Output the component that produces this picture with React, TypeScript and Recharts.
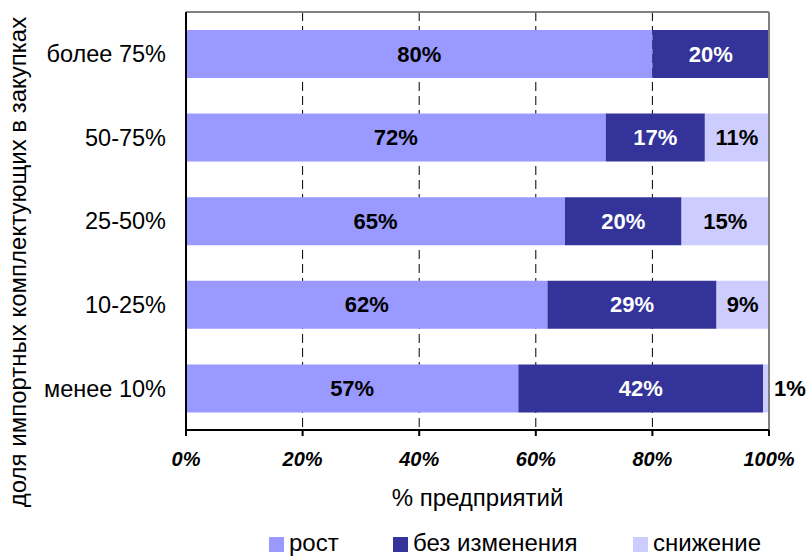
import { BarChart, Bar, XAxis, YAxis, CartesianGrid, ReferenceLine, LabelList } from "recharts";

// share of imported components in purchases
const categories = ["более 75%", "50-75%", "25-50%", "10-25%", "менее 10%"];
const growth = [80, 72, 65, 62, 57];
const noChange = [20, 17, 20, 29, 42];
const decline = [0, 11, 15, 9, 1];
const xTicks = [0, 20, 40, 60, 80, 100];

const series = [
  { key: "growth", name: "рост", color: "#9999ff", labelColor: "#000" },
  { key: "noChange", name: "без изменения", color: "#333399", labelColor: "#fff" },
  { key: "decline", name: "снижение", color: "#ccccff", labelColor: "#000" },
];

const data = categories.map((name, i) => ({
  name,
  growth: growth[i],
  noChange: noChange[i],
  decline: decline[i],
}));

const FONT = '"Liberation Sans", Arial, sans-serif';
const legendLeft = [269, 393, 633];

function makeLabel(color: string) {
  return (props: any) => {
    const { x, y, width, height, value } = props;
    if (!value) return null;
    const outside = value < 5;
    return (
      <text
        x={outside ? x + width + 5 : x + width / 2}
        y={y + height / 2}
        textAnchor={outside ? "start" : "middle"}
        dominantBaseline="central"
        fontFamily={FONT}
        fontWeight="bold"
        fontSize={22}
        fill={outside ? "#000" : color}
      >
        {value}%
      </text>
    );
  };
}

export default function App() {
  return (
    <div style={{ position: "absolute", left: 0, top: 0, width: 810, height: 556, background: "#fff", fontFamily: FONT }}>
      <BarChart
        width={810}
        height={556}
        layout="vertical"
        data={data}
        margin={{ top: 12, right: 41, bottom: 66, left: 0 }}
        barSize={48}
      >
        <CartesianGrid horizontal={false} stroke="#000" strokeDasharray="9 5" />
        {/* top frame line */}
        <CartesianGrid vertical={false} horizontalPoints={[12]} stroke="#808080" strokeWidth={2} />
        <XAxis
          type="number"
          domain={[0, 100]}
          ticks={xTicks}
          tickFormatter={(v) => `${v}%`}
          height={60}
          stroke="#000"
          strokeWidth={2}
          tickSize={6}
          tickMargin={16}
          tick={{ fill: "#000", fontSize: 20, fontWeight: "bold", fontStyle: "italic", fontFamily: FONT }}
        />
        <YAxis
          type="category"
          dataKey="name"
          width={186}
          stroke="#000"
          strokeWidth={2}
          tickLine={false}
          tickSize={6}
          tickMargin={14}
          tick={{ fill: "#000", fontSize: 23.5, fontFamily: FONT }}
        />
        <ReferenceLine x={100} stroke="#808080" strokeWidth={2} />
        {series.map((s) => (
          <Bar key={s.key} dataKey={s.key} name={s.name} stackId="a" fill={s.color} isAnimationActive={false}>
            <LabelList dataKey={s.key} content={makeLabel(s.labelColor)} />
          </Bar>
        ))}
      </BarChart>

      <div
        style={{
          position: "absolute",
          left: 18 - 250,
          top: 262 - 12,
          width: 500,
          height: 24,
          lineHeight: "24px",
          textAlign: "center",
          fontSize: 24,
          transform: "rotate(-90deg)",
          transformOrigin: "250px 12px",
          whiteSpace: "nowrap",
        }}
      >
        доля импортных комплектующих в закупках
      </div>

      <div style={{ position: "absolute", left: 186, width: 583, top: 486, textAlign: "center", fontSize: 24, lineHeight: "24px" }}>
        % предприятий
      </div>

      {series.map((s, i) => (
        <div key={s.key}>
          <span
            style={{ position: "absolute", left: legendLeft[i], top: 537, width: 15, height: 15, background: s.color }}
          />
          <span
            style={{ position: "absolute", left: legendLeft[i] + 20, top: 531, fontSize: 24, lineHeight: "24px", whiteSpace: "nowrap" }}
          >
            {s.name}
          </span>
        </div>
      ))}
    </div>
  );
}
